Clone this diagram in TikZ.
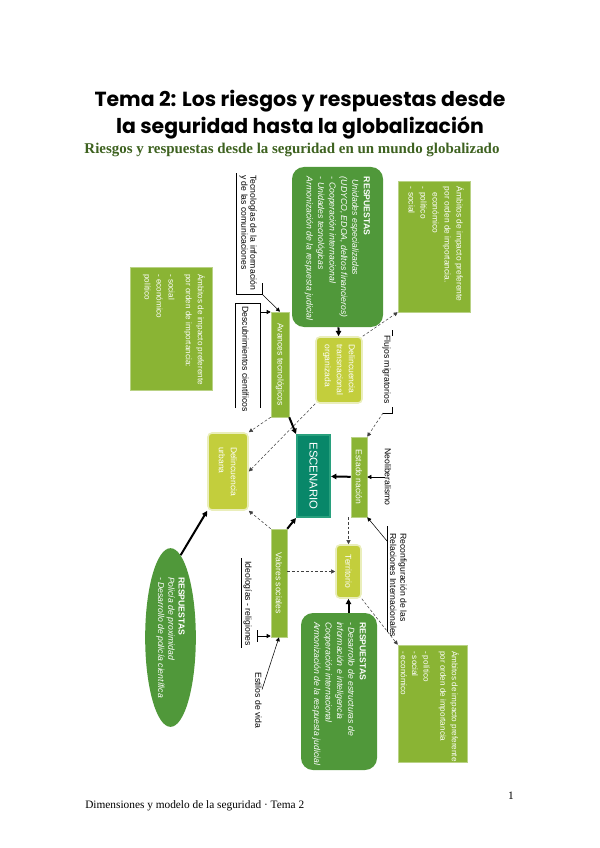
\documentclass[tikz,border=0pt]{standalone}
\usepackage{fontspec}
\setmainfont{Liberation Sans}
\newfontfamily\titlefont{Poppins}
\newfontfamily\serifont{Liberation Serif}
\usetikzlibrary{arrows.meta,calc,shapes.geometric}

\definecolor{midgreen}{RGB}{138,180,52}
\definecolor{lime}{RGB}{195,206,60}
\definecolor{dkgreen}{RGB}{80,152,58}
\definecolor{scene}{RGB}{8,135,105}
\definecolor{sceneline}{RGB}{40,160,125}
\definecolor{subgreen}{RGB}{62,98,32}

\begin{document}
\begin{tikzpicture}[x=0.75pt,y=-0.75pt,
  txt/.style={font=\fontsize{6.5}{8.6}\selectfont, rotate=-90, inner sep=0pt, align=left, text=white},
  lbl/.style={font=\fontsize{6.5}{6.8}\selectfont, rotate=-90, inner sep=0pt, align=left},
  gbox/.style={rotate=-90, fill=midgreen, draw=midgreen!60!white, line width=0.4pt, text=white, font=\fontsize{6.4}{8}\selectfont, inner sep=0pt},
  ybox/.style={rotate=-90, fill=lime, draw=lime!35!white, line width=1.2pt, rounded corners=3pt, text=white, font=\fontsize{6.4}{9}\selectfont, inner sep=0pt, align=left},
  rbox/.style={rotate=-90, fill=dkgreen, rounded corners=9pt},
  thk/.style={-{Triangle[length=4pt,width=4pt]}, line width=1.5pt},
  thn/.style={-{Triangle[length=3pt,width=3pt]}, line width=0.4pt},
  dsh/.style={thn, dash pattern=on 2pt off 1.5pt, black!75}]
  \useasboundingbox (0,0) rectangle (599,848);

  % Title
  \node (title1) [font=\titlefont\bfseries\fontsize{15.3}{18}\selectfont] at (300,101) {Tema 2: Los riesgos y respuestas desde};
  \node (title2) [font=\titlefont\bfseries\fontsize{15.3}{18}\selectfont] at (300,128) {la seguridad hasta la globalización};
  \node (subtitle) [font=\serifont\bfseries\fontsize{11.2}{13}\selectfont, text=subgreen] at (292,150) {Riesgos y respuestas desde la seguridad en un mundo globalizado};

  % Boxes
  \node (amb1) [gbox, minimum width=92pt, minimum height=61.5pt] at (171,328.5) {};
  \node (amb1t) [txt, font=\fontsize{6.1}{9}\selectfont, anchor=north west] at ($(amb1.north west)+(-7,7)$) {Ámbitos de impacto preferente\\por orden de importancia:\\[4pt]- social\\- económico\\político};

  \node (resp1) [rbox, minimum width=120pt, minimum height=68.25pt] at (337.5,247) {};
  \node (resp1t) [txt, anchor=north west] at ($(resp1.north west)+(-13,10)$) {\textbf{RESPUESTAS}\\\ \textit{Unidades especializadas}\\\textit{(UDYCO, EDOA, delitos financieros)}\\\textit{- Cooperación internacional}\\\textit{- Unidades tecnológicas}\\\textit{Armonización de la respuesta judicial}};

  \node (amb2) [gbox, minimum width=98.25pt, minimum height=54pt] at (434,246.5) {};
  \node (amb2t) [txt, font=\fontsize{6.3}{9}\selectfont, anchor=north west] at ($(amb2.north west)+(-6,6)$) {Ámbitos de impacto preferente\\por orden de importancia.\\\hspace{4pt}económico\\- político\\- social};

  \node (resp2) [rbox, minimum width=117.75pt, minimum height=57pt] at (339,691.5) {};
  \node (resp2t) [txt, anchor=north west] at ($(resp2.north west)+(-11,9)$) {\textbf{RESPUESTAS}\\\textit{- Desarrollo de estructuras de}\\\textit{información e inteligencia}\\\textit{Cooperación internacional}\\\textit{Armonización de la respuesta judicial}};

  \node (amb3) [gbox, minimum width=87.75pt, minimum height=51.75pt] at (432.5,703.5) {};
  \node (amb3t) [txt, font=\fontsize{6.1}{8.6}\selectfont, anchor=north west] at ($(amb3.north west)+(-8,6)$) {Ámbitos de impacto preferente\\por orden de importancia\\[4pt]- político\\- social\\- económico};

  \node (resp3) [ellipse, rotate=-90, fill=dkgreen, inner sep=0pt, minimum width=134pt, minimum height=38pt, text=white, font=\fontsize{6.5}{7.6}\selectfont, align=left] at (170.5,637.5) {\textbf{RESPUESTAS}\\\textit{Policía de proximidad}\\\textit{- Desarrollo de policía científica}};

  % Nodes
  \node (avt) [gbox, minimum width=78.75pt, minimum height=13.5pt] at (280,364.5) {Avances tecnológicos};
  \node (dto) [ybox, minimum width=49.5pt, minimum height=34.5pt] at (339,370) {Delincuencia\\transnacional\\organizada};
  \node (dur) [ybox, minimum width=57.75pt, minimum height=30pt] at (228,471.5) {Delincuencia\\urbana};
  \node (esc) [rotate=-90, fill=scene, draw=sceneline, line width=1.5pt, text=white, font=\fontsize{8.5}{9}\selectfont, minimum width=61.5pt, minimum height=24.75pt] at (313.5,476) {ESCENARIO};
  \node (est) [gbox, minimum width=60pt, minimum height=12pt] at (359,477) {Estado nación};
  \node (ter) [ybox, minimum width=39.75pt, minimum height=18.75pt] at (348.5,571.5) {Territorio};
  \node (vso) [gbox, minimum width=81pt, minimum height=12pt] at (279,583) {Valores sociales};

  % Labels
  \node (tic) [lbl, anchor=north west] at (257,175) {Tecnologías de la información\\y de las comunicaciones};
  \draw (262,283) -- (262,294) -- (236,294) -- (236,173);
  \node (dc) [lbl, anchor=north west] at (249,306) {Descubrimientos científicos};
  \draw (235,408) -- (235,303) -- (260,303) -- (260,408);
  \node (fm) [lbl, anchor=north west] at (391,335) {Flujos migratorios};
  \draw (392,330) -- (392,336);
  \draw (392,407) -- (392,413) -- (383,413);
  \node (neo) [lbl] at (388,477) {Neoliberalismo};
  \node (rri) [lbl, font=\fontsize{6.5}{7.6}\selectfont, anchor=north west] at (407,533) {Reconfiguración de las\\Relaciones Internacionales};
  \draw (387,526) -- (387,632);
  \node (ide) [lbl, anchor=north west] at (252,561) {Ideologías - religiones};
  \draw (241,558) -- (241,648);
  \draw (257,630) -- (257,642);
  \node (edv) [lbl, anchor=north west] at (262,672) {Estilos de vida};

  \coordinate (ticend) at (262,294);
  \coordinate (dcend) at (260,312);
  \coordinate (fmend) at (383,413);
  \coordinate (rriend) at (387,541);
  \coordinate (ideend) at (257,636);

  % Connectors
  \draw[thk] (resp1) -- (dto);
  \draw[dsh] (dto.north west) -- (amb2.south east);
  \draw[dsh] (fmend) -- (est.north west);
  \draw[thn] (neo) -- (est);
  \draw[thn] (rriend) -- (est.north east);
  \draw[thk] (est) -- (esc);
  \draw[dsh] (ter.west |- est.east) -- (ter.west);
  \draw[dsh] (vso.north |- ter) -- (ter);
  \draw[thk] (ter.east |- resp2.west) -- (ter.east);
  \draw[dsh] (ter.north east) -- (amb3.south west);
  \draw[thk] (avt.north east) -- (esc.south west);
  \draw[thk] (vso.north west) -- (esc.south east);
  \draw[dsh] (avt.south east) -- (dur.north west);
  \draw[dsh] (dto.south east) -- (dur.north);
  \draw[dsh] (vso.south west) -- (dur.north east);
  \draw[thk] (resp3.173) -- (dur.south east);
  \draw[thn] (dcend) -- (dcend -| avt.south);
  \draw[thn] (ticend) -- (avt.west);
  \draw[thn] (ideend) -- (ideend -| vso.south);
  \draw[thn] (edv) -- (vso.east);

  % Footer
  \node (foot) [font=\serifont\fontsize{8.5}{10}\selectfont, anchor=base west, inner sep=0pt] at (85,808) {Dimensiones y modelo de la seguridad · Tema 2};
  \node (pnum) [font=\serifont\fontsize{8.5}{10}\selectfont, anchor=base, inner sep=0pt] at (511,799) {1};
\end{tikzpicture}
\end{document}
